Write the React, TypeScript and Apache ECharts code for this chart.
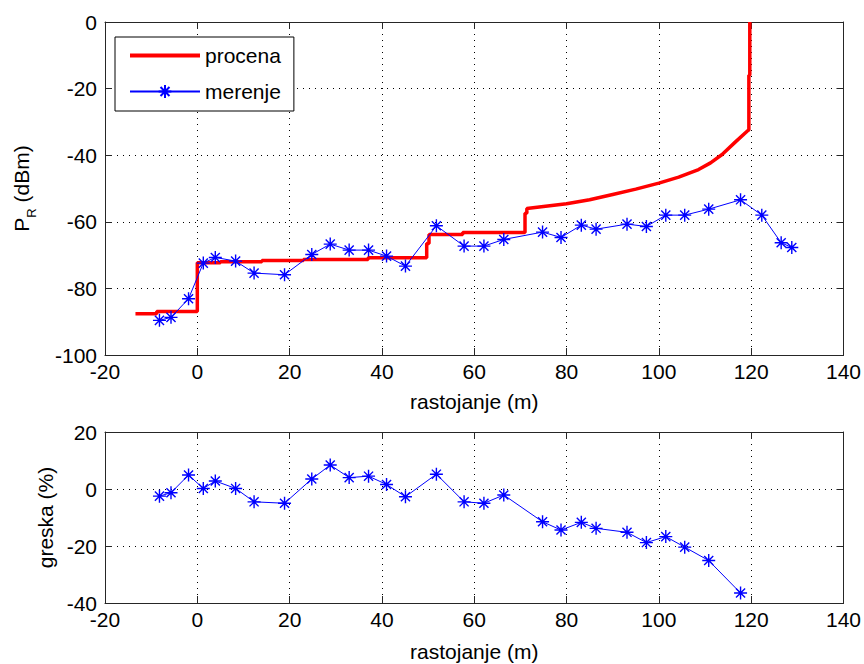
import React, { useEffect, useRef } from "react";
import * as echarts from "echarts";

// ---- data ----
const distance = [
  -8.2, -5.7, -1.9, 1.3, 3.9, 8.3, 12.3, 18.9, 24.8, 28.8, 32.9, 37.1, 41.0, 45.1, 51.8, 57.8,
  62.1, 66.4, 74.8, 78.8, 83.2, 86.4, 93.1, 97.3, 101.5, 105.6, 110.8, 117.7, 122.3, 126.5, 128.8,
];
const measuredPR = [
  -89.6, -88.7, -83.1, -72.4, -70.7, -71.8, -75.4, -75.9, -69.8, -66.7, -68.5, -68.5, -70.3, -73.3,
  -61.2, -67.3, -67.3, -65.3, -63.1, -64.7, -61.0, -62.2, -60.7, -61.4, -58.0, -58.0, -56.2, -53.4,
  -58.0, -66.3, -67.7,
];
const errorPct = [
  -2.5, -1.3, 4.9, 0.2, 2.8, 0.2, -4.5, -5.0, 3.5, 8.4, 4.0, 4.5, 1.6, -2.7, 5.2, -4.5, -5.0, -2.1,
  -11.5, -14.4, -11.7, -13.8, -15.2, -18.8, -16.7, -20.4, -25.1, -36.5,
];
const estimateX = [
  -13.4, -8.8, -8.8, 0, 0, 5, 5, 14, 14, 23, 23, 37, 37, 49.7, 49.7, 50.2, 50.2, 57.5, 57.5, 71.0,
  71.0, 71.4, 71.4, 75, 80, 85, 90, 95, 100, 104.3, 108.6, 111.2, 113.7, 116.6, 119.3, 119.5, 119.5,
  119.7, 119.7,
];
const estimateY = [
  -87.6, -87.6, -86.9, -86.9, -72.3, -72.3, -72.0, -72.0, -71.6, -71.6, -71.3, -71.3, -70.8, -70.8,
  -66.5, -66.5, -63.8, -63.8, -63.2, -63.2, -57.4, -57.4, -56.0, -55.4, -54.6, -53.4, -51.8, -50.2,
  -48.4, -46.6, -44.3, -42.3, -39.8, -36.0, -32.6, -32.4, -16.0, -16.0, 0,
];
const seriesNames = ["procena", "merenje"];
const xName = "rastojanje (m)";
const topYName = "{p|P}{s|R}{u| (dBm)}";
const bottomYName = "greska (%)";

const FONT = "'Liberation Sans', Arial, sans-serif";
const STAR = "path://M0,-10L0,10M-10,0L10,0M-7,-7L7,7M-7,7L7,-7";

export default function App() {
  const ref = useRef<HTMLDivElement>(null);

  useEffect(() => {
    if (!ref.current) return;
    const chart = echarts.init(ref.current, undefined, { renderer: "svg" });

    const lineCol = "#262626";
    const label = { color: "#000", fontSize: 21, fontFamily: FONT };
    const split = { show: true, lineStyle: { color: "#000", width: 1, type: [1, 5] as any } };
    const tick = { show: true, inside: true, length: 7, lineStyle: { color: lineCol, width: 1 } };
    const aLine = { show: true, onZero: false, lineStyle: { color: lineCol, width: 1 } };

    const xAxes = (g: number, gap: number) => [
      {
        type: "value", gridIndex: g, min: -20, max: 140, interval: 20, position: "bottom",
        axisLine: aLine, axisTick: tick, splitLine: split,
        axisLabel: { ...label, margin: 6 },
        name: xName, nameLocation: "middle", nameGap: gap, nameTextStyle: { ...label },
      },
      {
        type: "value", gridIndex: g, min: -20, max: 140, interval: 20, position: "top",
        axisLine: aLine, axisTick: tick, splitLine: { show: false }, axisLabel: { show: false },
      },
    ];
    const yAxes = (g: number, min: number, max: number, name: string, gap: number, rich?: any) => [
      {
        type: "value", gridIndex: g, min, max, interval: 20, position: "left",
        axisLine: aLine, axisTick: tick, splitLine: split,
        axisLabel: { ...label, margin: 8 },
        name, nameLocation: "middle", nameGap: gap,
        nameTextStyle: { ...label, rich },
      },
      {
        type: "value", gridIndex: g, min, max, interval: 20, position: "right",
        axisLine: aLine, axisTick: tick, splitLine: { show: false }, axisLabel: { show: false },
      },
    ];

    const rich = {
      p: { fontSize: 21, fontFamily: FONT, color: "#000", lineHeight: 34, verticalAlign: "middle" },
      s: { fontSize: 13, fontFamily: FONT, color: "#000", lineHeight: 12, verticalAlign: "bottom" },
      u: { fontSize: 21, fontFamily: FONT, color: "#000", lineHeight: 34, verticalAlign: "middle" },
    };

    chart.setOption({
      animation: false,
      backgroundColor: "#fff",
      textStyle: { fontFamily: FONT },
      grid: [
        { left: 105, top: 22, width: 740, height: 333 },
        { left: 105, top: 432, width: 740, height: 171 },
      ],
      xAxis: [...xAxes(0, 36), ...xAxes(1, 38)],
      yAxis: [
        ...yAxes(0, -100, 0, topYName, 67, rich),
        ...yAxes(1, -40, 20, bottomYName, 48),
      ],
      legend: {
        left: 115, top: 37, orient: "vertical",
        data: [
          { name: seriesNames[0], itemStyle: { opacity: 0 }, lineStyle: { width: 4, color: "#ff0000" } },
          { name: seriesNames[1] },
        ],
        backgroundColor: "#fff", borderColor: "#000", borderWidth: 1,
        padding: [8, 13, 9, 13], itemGap: 15, itemWidth: 70, itemHeight: 16,
        textStyle: { color: "#000", fontSize: 21, fontFamily: FONT, lineHeight: 20 },
      },
      series: [
        {
          name: seriesNames[0], type: "line", xAxisIndex: 0, yAxisIndex: 0,
          data: estimateX.map((x, i) => [x, estimateY[i]]),
          symbol: "none", lineStyle: { color: "#ff0000", width: 3.5 }, itemStyle: { color: "#ff0000" },
          z: 2,
        },
        {
          name: seriesNames[1], type: "line", xAxisIndex: 0, yAxisIndex: 0,
          data: distance.map((x, i) => [x, measuredPR[i]]),
          symbol: STAR, symbolSize: 13, showSymbol: true,
          lineStyle: { color: "#0000ff", width: 1 },
          itemStyle: { color: "#0000ff", borderColor: "#0000ff", borderWidth: 1.4 },
          z: 3,
        },
        {
          name: "greska", type: "line", xAxisIndex: 2, yAxisIndex: 2,
          data: errorPct.map((v, i) => [distance[i], v]),
          symbol: STAR, symbolSize: 13, showSymbol: true,
          lineStyle: { color: "#0000ff", width: 1 },
          itemStyle: { color: "#0000ff", borderColor: "#0000ff", borderWidth: 1.4 },
          z: 3,
        },
      ],
    });

    return () => chart.dispose();
  }, []);

  return (
    <div
      ref={ref}
      style={{ position: "absolute", left: 0, top: 0, width: 864, height: 664, background: "#fff" }}
    />
  );
}
